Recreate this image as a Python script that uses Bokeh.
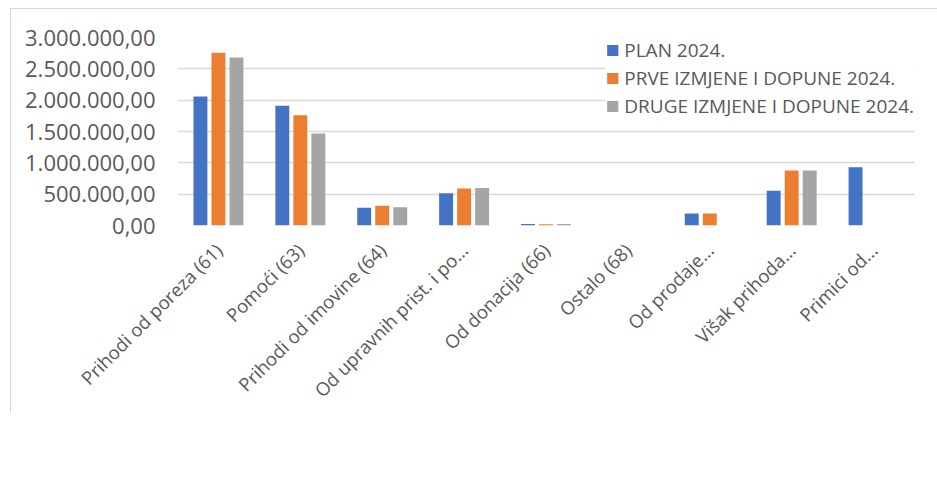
import math
from bokeh.plotting import figure
from bokeh.models import (FactorRange, Range1d, Legend, LegendItem, ColumnDataSource,
                          CustomJSTickFormatter, FixedTicker)
from bokeh.transform import dodge
from bokeh.embed import file_html
from bokeh.resources import INLINE

categories = ["Prihodi od poreza (61)", "Pomoći (63)", "Prihodi od imovine (64)",
              "Od upravnih prist. i po...", "Od donacija (66)", "Ostalo (68)",
              "Od prodaje...", "Višak prihoda...", "Primici od..."]
plan_2024 = [2060000, 1910000, 282000, 516000, 25000, 0, 190000, 553000, 930000]
prve_izmjene = [2756000, 1760000, 314000, 590000, 20000, 0, 190000, 878000, 0]
druge_izmjene = [2680000, 1468000, 292000, 600000, 22000, 0, 0, 878000, 0]
series_names = ["PLAN 2024.", "PRVE IZMJENE I DOPUNE 2024.", "DRUGE IZMJENE I DOPUNE 2024."]
y_ticks = [0, 500000, 1000000, 1500000, 2000000, 2500000, 3000000]

colors = ["#4472C4", "#ED7D31", "#A5A5A5"]
FONT = "Open Sans"
TXT = "#595959"

src = ColumnDataSource(dict(cat=categories, a=plan_2024, b=prve_izmjene, c=druge_izmjene))

p = figure(frame_width=737, frame_height=188, output_backend="svg", toolbar_location=None,
           x_range=FactorRange(*categories, range_padding=0),
           y_range=Range1d(0, 3000000),
           min_border_left=166, min_border_right=23, min_border_top=28, min_border_bottom=0,
           styles={"border-left": "1px solid #d9d9d9", "border-top": "1px solid #d9d9d9"},
           margin=(8, 0, 0, 10))
p.outline_line_color = None
p.background_fill_color = "white"
p.border_fill_color = "white"

renderers = []
for key, off, col in zip(["a", "b", "c"], [-0.22, 0.0, 0.22], colors):
    r = p.vbar(x=dodge("cat", off, range=p.x_range), top=key, width=0.17, source=src,
               fill_color=col, line_color=None)
    renderers.append(r)

p.xgrid.grid_line_color = None
p.ygrid.grid_line_color = "#d9d9d9"
p.ygrid.grid_line_width = 1.5

p.yaxis.ticker = FixedTicker(ticks=y_ticks)
p.yaxis.formatter = CustomJSTickFormatter(code="""
const s = Math.round(tick).toString().replace(/\\B(?=(\\d{3})+(?!\\d))/g, ".");
return s + ",00";
""")
p.yaxis.axis_line_color = None
p.yaxis.major_tick_line_color = None
p.yaxis.minor_tick_line_color = None
p.yaxis.major_label_standoff = 16
p.yaxis.major_label_text_font = FONT
p.yaxis.major_label_text_font_size = "22px"
p.yaxis.major_label_text_color = TXT

p.xaxis.axis_line_color = None
p.xaxis.major_tick_line_color = None
p.xaxis.minor_tick_line_color = None
p.xaxis.major_label_orientation = math.pi / 4
p.xaxis.major_label_standoff = 15
p.xaxis.major_label_text_font = FONT
p.xaxis.major_label_text_font_size = "18.5px"
p.xaxis.major_label_text_color = TXT

legend = Legend(items=[LegendItem(label=n, renderers=[r]) for n, r in zip(series_names, renderers)],
                orientation="vertical", location="top_right",
                glyph_width=14, glyph_height=14, label_standoff=5, spacing=2,
                padding=4, margin=0, border_line_color=None,
                background_fill_color="white", background_fill_alpha=1.0,
                label_text_font=FONT, label_text_font_size="19px", label_text_color=TXT,
                label_height=14)
p.add_layout(legend)

open("out.html", "w").write(file_html(p, INLINE))
